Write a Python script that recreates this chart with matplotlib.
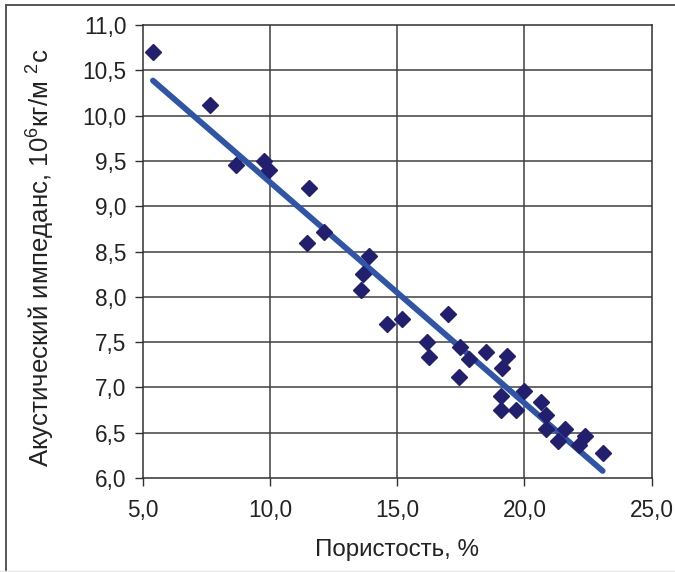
import numpy as np
import matplotlib
matplotlib.use("Agg")
import matplotlib.pyplot as plt
from matplotlib.lines import Line2D

plt.rcParams['font.family'] = ['Liberation Sans', 'DejaVu Sans']
plt.rcParams['mathtext.fontset'] = 'custom'
plt.rcParams['mathtext.rm'] = 'Liberation Sans'
plt.rcParams['mathtext.it'] = 'Liberation Sans'

# Porosity (%) and acoustic impedance (10^6 kg/m^2 s) measurements
porosity = [5.39, 7.65, 8.67, 9.77, 9.94, 11.51, 11.45, 12.10, 13.87, 13.65,
            13.57, 14.59, 15.20, 17.01, 16.16, 16.23, 17.47, 17.41, 17.84, 18.51,
            19.31, 19.11, 19.07, 19.07, 19.67, 20.00, 20.65, 20.84, 20.85, 21.31,
            21.60, 22.16, 22.39, 23.08]
impedance = [10.70, 10.12, 9.45, 9.50, 9.40, 9.20, 8.59, 8.71, 8.45, 8.25,
             8.07, 7.70, 7.76, 7.81, 7.50, 7.34, 7.45, 7.12, 7.31, 7.39,
             7.35, 7.21, 6.91, 6.75, 6.75, 6.96, 6.84, 6.69, 6.54, 6.41,
             6.54, 6.36, 6.46, 6.28]

# Linear trend: impedance = slope * porosity + intercept
trend_slope = -0.2436
trend_intercept = 11.70

x_ticks = [5.0, 10.0, 15.0, 20.0, 25.0]
y_ticks = [6.0, 6.5, 7.0, 7.5, 8.0, 8.5, 9.0, 9.5, 10.0, 10.5, 11.0]

fig = plt.figure(figsize=(6.75, 5.72), dpi=100)
ax = fig.add_axes([143 / 675, 1 - 478 / 572, (651.5 - 143) / 675, (478 - 25) / 572])

grid_color = '#404040'
for v in x_ticks[1:-1]:
    ax.axvline(v, color=grid_color, lw=1.1, zorder=1)
for v in y_ticks[1:-1]:
    ax.axhline(v, color=grid_color, lw=1.1, zorder=1)

xs = np.array([min(porosity), max(porosity)])
ax.plot(xs, trend_slope * xs + trend_intercept, color='#2E55A8', lw=4.2,
        solid_capstyle='round', zorder=2)
ax.plot(porosity, impedance, linestyle='none', marker='D', markersize=8.0,
        color='#22206E', markeredgecolor='#22206E', zorder=3)

ax.set_xlim(5, 25)
ax.set_ylim(6, 11)
ax.set_xticks(x_ticks)
ax.set_yticks(y_ticks)
ax.set_xticklabels([f"{v:.1f}".replace('.', ',') for v in x_ticks])
ax.set_yticklabels([f"{v:.1f}".replace('.', ',') for v in y_ticks])
ax.tick_params(axis='both', direction='out', length=6, width=1.0,
               color='#303030', labelsize=16.3, labelcolor='#222222', pad=6)
ax.tick_params(axis='x', pad=9)
for s in ax.spines.values():
    s.set_color('#303030')
    s.set_linewidth(1.1)

ax.set_xlabel('Пористость, %', fontsize=17.4, color='#222222', va='center')
ax.xaxis.set_label_coords(0.5, -0.159)
ax.set_ylabel(r'Акустический импеданс, 10$^{6}$кг/м $^{2}$с', fontsize=18.6,
              color='#222222', va='center')
ax.yaxis.set_label_coords(-0.2006, 0.487)

# outer frame
fig.add_artist(Line2D([6 / 675, 6 / 675], [0, 1 - 4.5 / 572], color='#555555',
                      lw=1.4, transform=fig.transFigure))
fig.add_artist(Line2D([6 / 675, 1], [1 - 4.5 / 572, 1 - 4.5 / 572], color='#555555',
                      lw=1.4, transform=fig.transFigure))
fig.add_artist(Line2D([0, 1], [1 / 572, 1 / 572], color='#e6e6e6',
                      lw=1.0, transform=fig.transFigure))

fig.savefig('out.png', dpi=100)
